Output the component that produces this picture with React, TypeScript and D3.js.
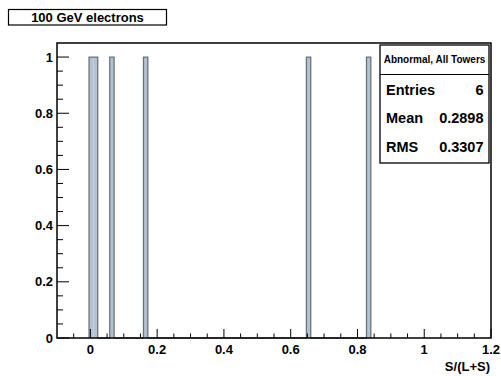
import React from "react";
import * as d3 from "d3";

const binLows: number[] = [-0.004, 0.009, 0.058, 0.159, 0.647, 0.827];
const binCounts: number[] = [1, 1, 1, 1, 1, 1];
const binWidth = 0.013;
const xMajorTicks: number[] = [0, 0.2, 0.4, 0.6, 0.8, 1, 1.2];
const yMajorTicks: number[] = [0, 0.2, 0.4, 0.6, 0.8, 1];
const xTickLabels: string[] = ["0", "0.2", "0.4", "0.6", "0.8", "1", "1.2"];
const yTickLabels: string[] = ["0", "0.2", "0.4", "0.6", "0.8", "1"];
const statLabels: string[] = ["Entries", "Mean", "RMS"];
const statValues: string[] = ["6", "0.2898", "0.3307"];
const titleText = "100 GeV electrons";
const statsTitle = "Abnormal, All Towers";
const xTitle = "S/(L+S)";

const FONT = "'Liberation Sans', Arial, Helvetica, sans-serif";

export default function App() {
  const W = 501, H = 376;
  const L = 57, R = 491, T = 43, B = 338;
  const x = d3.scaleLinear().domain([-0.1, 1.2]).range([L, R]);
  const y = d3.scaleLinear().domain([0, 1.05]).range([B, T]);
  const xMinor = d3.range(-0.05, 1.2001, 0.05).filter((v) => Math.abs(Math.round(v * 5) - v * 5) > 1e-6);
  const yMinor = d3.range(0.05, 1.05, 0.05).filter((v) => Math.abs(Math.round(v * 5) - v * 5) > 1e-6);

  // histogram outline path (step contour)
  const pts: [number, number][] = [];
  binLows.forEach((lo, i) => {
    const c = binCounts[i];
    const prevEnd = i > 0 ? binLows[i - 1] + binWidth : null;
    if (prevEnd === null || Math.abs(prevEnd - lo) > 1e-6) {
      if (prevEnd !== null) pts.push([prevEnd, 0]);
      pts.push([lo, 0]);
    }
    pts.push([lo, c]);
    pts.push([lo + binWidth, c]);
  });
  pts.push([binLows[binLows.length - 1] + binWidth, 0]);
  const outline = d3.line<[number, number]>().x((d) => x(d[0])).y((d) => y(d[1]))(pts) || "";

  return (
    <svg width={W} height={H} style={{ position: "absolute", left: 0, top: 0 }} fontFamily={FONT}>
      <rect x={0} y={0} width={W} height={H} fill="#ffffff" />
      {/* title box */}
      <rect x={8.5} y={9.5} width={158} height={15.5} fill="#fff" stroke="#000" strokeWidth={1.2} />
      <text x={87.5} y={21.5} textAnchor="middle" fontSize={13} fontWeight="bold">{titleText}</text>

      {/* bars */}
      {binLows.map((lo, i) => (
        <rect key={i} x={x(lo)} y={y(binCounts[i])} width={x(lo + binWidth) - x(lo)} height={y(0) - y(binCounts[i])}
          fill="#b3c2d0" stroke="none" />
      ))}
      <path d={outline} fill="none" stroke="#6a747c" strokeWidth={1.3} />

      {/* x ticks */}
      {xMajorTicks.map((v) => (
        <line key={"xm" + v} x1={x(v)} x2={x(v)} y1={B} y2={B - 9} stroke="#000" strokeWidth={1} />
      ))}
      {xMinor.map((v) => (
        <line key={"xn" + v} x1={x(v)} x2={x(v)} y1={B} y2={B - 4.5} stroke="#000" strokeWidth={1} />
      ))}
      {/* y ticks */}
      {yMajorTicks.map((v) => (
        <line key={"ym" + v} x1={L} x2={L + 12} y1={y(v)} y2={y(v)} stroke="#000" strokeWidth={1} />
      ))}
      {yMinor.map((v) => (
        <line key={"yn" + v} x1={L} x2={L + 6} y1={y(v)} y2={y(v)} stroke="#000" strokeWidth={1} />
      ))}

      {/* frame */}
      <rect x={L} y={T} width={R - L} height={B - T} fill="none" stroke="#000" strokeWidth={1.5} />

      {/* tick labels */}
      {xMajorTicks.map((v, i) => (
        <text key={"xl" + v} x={x(v)} y={354} textAnchor="middle" fontSize={13} fontWeight="bold">{xTickLabels[i]}</text>
      ))}
      {yMajorTicks.map((v, i) => (
        <text key={"yl" + v} x={53} y={y(v) + 4.5} textAnchor="end" fontSize={13} fontWeight="bold">{yTickLabels[i]}</text>
      ))}
      <text x={490} y={371} textAnchor="end" fontSize={13} fontWeight="bold">{xTitle}</text>

      {/* stats box */}
      <rect x={380} y={45} width={109} height={118} fill="#fff" stroke="#000" strokeWidth={1.3} />
      <line x1={380} x2={489} y1={74.5} y2={74.5} stroke="#000" strokeWidth={1.2} />
      <text x={434.5} y={63} textAnchor="middle" fontSize={10} fontWeight="bold">{statsTitle}</text>
      {statLabels.map((s, i) => (
        <g key={s}>
          <text x={386} y={94.5 + i * 28.7} fontSize={14.5} fontWeight="bold">{s}</text>
          <text x={483.5} y={94.5 + i * 28.7} textAnchor="end" fontSize={14.5} fontWeight="bold">{statValues[i]}</text>
        </g>
      ))}
    </svg>
  );
}
